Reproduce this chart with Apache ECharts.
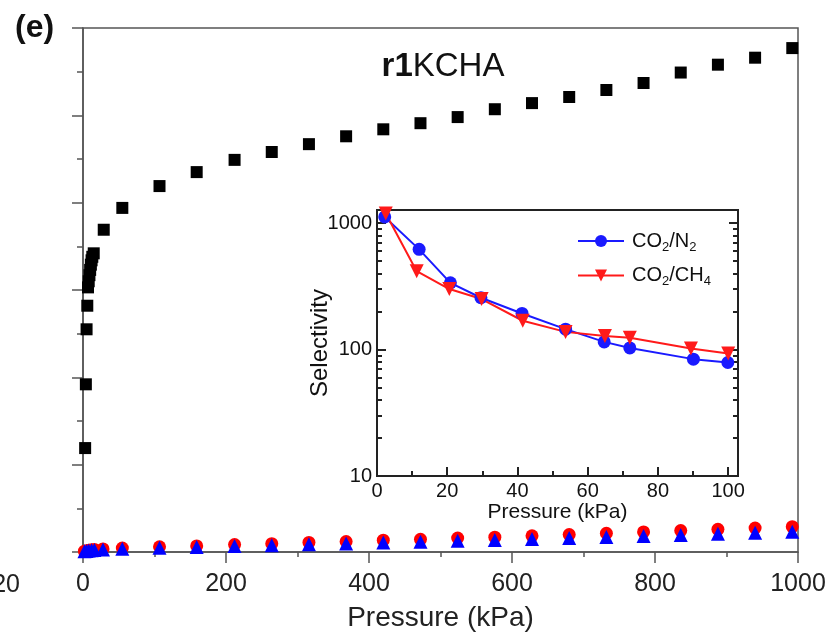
<!DOCTYPE html>
<html>
<head>
    <meta charset="utf-8">
    <title>r1KCHA isotherms</title>
    <script src="https://cdn.jsdelivr.net/npm/echarts@6/dist/echarts.min.js"></script>
    <style>
        html, body {
            margin: 0;
            padding: 0;
            background: #fff;
        }
        #chart {
            width: 837px;
            height: 637px;
        }
    </style>
</head>
<body>
<div id="chart"></div>
<script>
    // main panel: uptake vs pressure (y labels cut off in the source figure)
    var co2Pressure = [3, 4, 5, 6, 7, 8, 9, 10, 11, 12, 13, 15, 29, 55, 107, 159, 212, 264, 316, 368,
        420, 472, 524, 576, 628, 680, 732, 784, 836, 888, 940, 992];
    var co2Uptake = [1.19, 1.92, 2.55, 2.82, 3.03, 3.10, 3.17, 3.23, 3.29, 3.34, 3.38, 3.42, 3.69, 3.94,
        4.19, 4.35, 4.49, 4.58, 4.67, 4.76, 4.84, 4.91, 4.98, 5.07, 5.14, 5.21, 5.29, 5.37, 5.49, 5.58,
        5.66, 5.77];

    var gasPressure = [2, 5, 8, 12, 16, 28, 55, 107, 159, 212, 264, 316, 368, 420, 472, 524, 576, 628,
        680, 732, 784, 836, 888, 940, 992];
    var ch4Uptake = [0.01, 0.015, 0.02, 0.025, 0.03, 0.035, 0.045, 0.06, 0.07, 0.085, 0.095, 0.11, 0.12,
        0.135, 0.145, 0.16, 0.17, 0.185, 0.2, 0.215, 0.23, 0.245, 0.26, 0.275, 0.29];
    var n2Uptake = [0.008, 0.012, 0.016, 0.02, 0.024, 0.028, 0.036, 0.048, 0.056, 0.068, 0.076, 0.088,
        0.096, 0.108, 0.116, 0.128, 0.136, 0.148, 0.16, 0.172, 0.184, 0.196, 0.208, 0.22, 0.232];

    // inset: selectivity
    var n2SelPressure = [2.2, 12, 20.9, 29.6, 41.3, 53.7, 64.7, 72, 90.1, 99.9];
    var n2Selectivity = [1120, 620, 337, 257, 193, 145, 115, 103, 84, 79];
    var ch4SelPressure = [2.5, 11.3, 20.6, 29.8, 41.5, 53.7, 64.9, 72, 89.4, 100];
    var ch4Selectivity = [1190, 417, 301, 251, 169, 138, 128, 124, 102, 93];

    var insetXTicks = [0, 20, 40, 60, 80, 100];
    var insetXMinor = [10, 30, 50, 70, 90];
    var insetYTicks = [10, 100, 1000];
    var insetYMinor = [20, 30, 40, 50, 60, 70, 80, 90, 200, 300, 400, 500, 600, 700, 800, 900];

    function zip(xs, ys) {
        return xs.map(function (x, i) { return [x, ys[i]]; });
    }

    var FONT = 'Liberation Sans, Arial, sans-serif';
    var mainLine = { color: '#555', width: 1.5 };
    var insetLine = { color: '#222', width: 2 };

    function insetY(position, ticks, len, withLabels) {
        return {
            gridIndex: 1,
            type: 'log',
            min: 10,
            max: 1270,
            position: position,
            axisLine: { show: false, onZero: false },
            axisTick: { show: true, inside: true, length: len, customValues: ticks, lineStyle: insetLine },
            axisLabel: withLabels ? {
                show: true, customValues: ticks, margin: 5, fontSize: 20, color: '#111', fontFamily: FONT,
                formatter: function (v) { return String(Math.round(v)); }
            } : { show: false },
            splitLine: { show: false }
        };
    }

    var chart = echarts.init(document.getElementById('chart'));

    var selY = insetY('left', insetYTicks, 9, true);
    selY.name = 'Selectivity';
    selY.nameLocation = 'middle';
    selY.nameGap = 45;
    selY.nameMoveOverlap = false;
    selY.nameTextStyle = { fontSize: 24, color: '#111', fontFamily: FONT };

    var option = {
        animation: false,
        backgroundColor: '#fff',
        textStyle: { fontFamily: FONT },
        title: {
            text: '{b|r1}{n|KCHA}',
            left: 438,
            top: 45,
            textAlign: 'center',
            textStyle: {
                fontWeight: 'normal',
                rich: {
                    b: { fontSize: 33, fontWeight: 'bold', color: '#111', fontFamily: FONT },
                    n: { fontSize: 33, fontWeight: 'normal', color: '#111', fontFamily: FONT }
                }
            }
        },
        graphic: [
            {
                type: 'text', left: 15, top: 12,
                style: { text: '(e)', font: 'bold 32px ' + FONT, fill: '#111' }
            },
            {
                type: 'text', x: 20, y: 585,
                style: { text: '120', font: '25px ' + FONT, fill: '#222', align: 'right', verticalAlign: 'middle' }
            }
        ],
        legend: {
            data: ['CO2/N2', 'CO2/CH4'],
            orient: 'vertical',
            left: 577,
            top: 231,
            padding: 0,
            itemWidth: 46,
            itemHeight: 15,
            itemGap: 12,
            formatter: function (name) {
                return name === 'CO2/N2' ? '{n|CO}{s|2}{n|/N}{s|2}' : '{n|CO}{s|2}{n|/CH}{s|4}';
            },
            textStyle: {
                padding: [0, 0, 0, 3],
                rich: {
                    n: { fontSize: 20, color: '#111', fontFamily: FONT },
                    s: { fontSize: 13, color: '#111', fontFamily: FONT, verticalAlign: 'top', padding: [12, 0, 0, 0] }
                }
            }
        },
        grid: [
            { left: 83, top: 28, width: 715, height: 524, show: true, borderColor: '#555', borderWidth: 1.5 },
            { left: 377, top: 210, width: 361, height: 266, show: true, borderColor: '#222', borderWidth: 2 }
        ],
        xAxis: [
            {
                gridIndex: 0,
                type: 'value',
                min: 0,
                max: 1000,
                interval: 200,
                axisLine: { show: true, lineStyle: mainLine },
                axisTick: { show: true, length: 11, lineStyle: mainLine },
                minorTick: { show: true, splitNumber: 2, length: 5, lineStyle: mainLine },
                splitLine: { show: false },
                axisLabel: {
                    fontSize: 25, color: '#222', margin: 20, fontFamily: FONT,
                    formatter: function (v) { return String(v); }
                },
                name: 'Pressure (kPa)',
                nameLocation: 'middle',
                nameGap: 52,
                nameMoveOverlap: false,
                nameTextStyle: { fontSize: 28, color: '#222', fontFamily: FONT }
            },
            {
                gridIndex: 1,
                type: 'value',
                min: 0,
                max: 102.8,
                position: 'bottom',
                axisLine: { show: false, onZero: false },
                axisTick: { show: true, inside: true, length: 9, customValues: insetXTicks, lineStyle: insetLine },
                axisLabel: { customValues: insetXTicks, fontSize: 20, color: '#111', margin: 5, fontFamily: FONT },
                splitLine: { show: false },
                name: 'Pressure (kPa)',
                nameLocation: 'middle',
                nameGap: 26,
                nameMoveOverlap: false,
                nameTextStyle: { fontSize: 21, color: '#111', fontFamily: FONT }
            },
            {
                gridIndex: 1,
                type: 'value',
                min: 0,
                max: 102.8,
                position: 'bottom',
                axisLine: { show: false, onZero: false },
                axisTick: { show: true, inside: true, length: 5, customValues: insetXMinor, lineStyle: insetLine },
                axisLabel: { show: false },
                splitLine: { show: false }
            }
        ],
        yAxis: [
            {
                gridIndex: 0,
                type: 'value',
                min: 0,
                max: 6,
                interval: 1,
                axisLine: { show: true, lineStyle: mainLine },
                axisTick: { show: true, length: 11, lineStyle: mainLine },
                minorTick: { show: true, splitNumber: 2, length: 6, lineStyle: mainLine },
                axisLabel: { show: false },
                splitLine: { show: false }
            },
            selY,
            insetY('left', insetYMinor, 5, false),
            insetY('right', insetYTicks, 9, false),
            insetY('right', insetYMinor, 5, false)
        ],
        series: [
            {
                name: 'CO2',
                type: 'scatter',
                xAxisIndex: 0, yAxisIndex: 0,
                symbol: 'rect',
                symbolSize: 12,
                itemStyle: { color: '#000', opacity: 1 },
                data: zip(co2Pressure, co2Uptake)
            },
            {
                name: 'CH4',
                type: 'scatter',
                xAxisIndex: 0, yAxisIndex: 0,
                symbol: 'circle',
                symbolSize: 13,
                itemStyle: { color: '#ff0000', opacity: 1 },
                data: zip(gasPressure, ch4Uptake)
            },
            {
                name: 'N2',
                type: 'scatter',
                xAxisIndex: 0, yAxisIndex: 0,
                symbol: 'triangle',
                symbolSize: 14,
                itemStyle: { color: '#0000ff', opacity: 1 },
                data: zip(gasPressure, n2Uptake)
            },
            {
                name: 'CO2/N2',
                type: 'line',
                xAxisIndex: 1, yAxisIndex: 1,
                symbol: 'circle',
                symbolSize: 13,
                lineStyle: { color: '#1a1aff', width: 2 },
                itemStyle: { color: '#1a1aff' },
                data: zip(n2SelPressure, n2Selectivity)
            },
            {
                name: 'CO2/CH4',
                type: 'line',
                xAxisIndex: 1, yAxisIndex: 1,
                symbol: 'triangle',
                symbolRotate: 180,
                symbolSize: 14,
                lineStyle: { color: '#ff1a1a', width: 2 },
                itemStyle: { color: '#ff1a1a' },
                data: zip(ch4SelPressure, ch4Selectivity)
            }
        ]
    };

    chart.setOption(option);
</script>
</body>
</html>
